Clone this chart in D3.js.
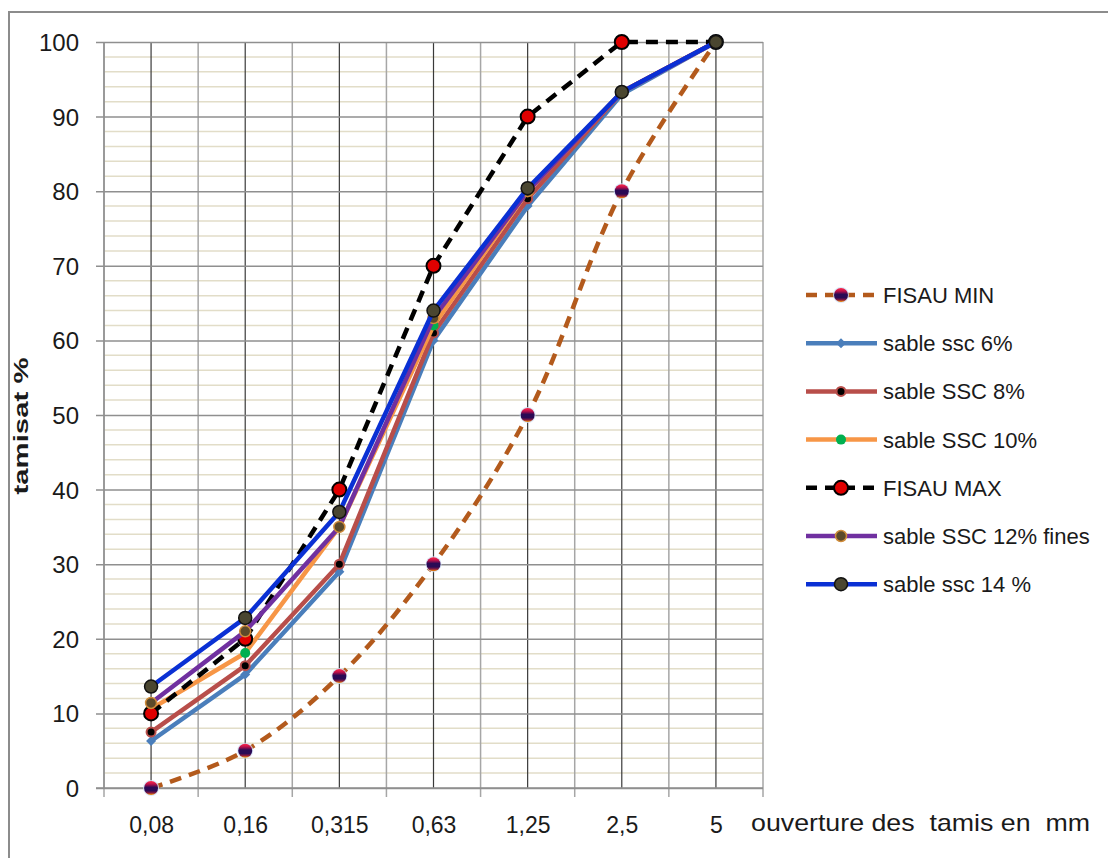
<!DOCTYPE html>
<html><head><meta charset="utf-8">
<script src="https://cdn.jsdelivr.net/npm/d3@7"></script>
<style>
html,body{margin:0;padding:0;background:#fff;}
svg{display:block;}
text{font-family:"Liberation Sans",Arial,sans-serif;fill:#1a1a1a;}
</style></head>
<body>
<svg id="chart" width="1108" height="858"></svg>
<script>
const categories = ["0,08","0,16","0,315","0,63","1,25","2,5","5"];
const fisauMin = [0,5,15,30,50,80,100];
const ssc6 = [6.3,15.2,29,60,78,93,100];
const ssc8 = [7.5,16.4,30,61,79,93.3,100];
const ssc10 = [10.6,18.1,35,62,80,93.3,100];
const fisauMax = [10,20,40,70,90,100,100];
const ssc12 = [11.4,21,35,63,80,93.3,100];
const ssc14 = [13.6,22.8,37,64,80.4,93.3,100];
const seriesNames = ["FISAU MIN","sable ssc 6%","sable SSC 8%","sable SSC 10%","FISAU MAX","sable SSC 12% fines","sable ssc 14 %"];
const yTicks = [0,10,20,30,40,50,60,70,80,90,100];
const xTitle = "ouverture des\u00a0\u00a0tamis en\u00a0\u00a0mm";
const yTitle = "tamisat  %";

const svg = d3.select("#chart");
const L = 104, R = 763, T = 42, B = 788;

// outer frame
svg.append("rect").attr("x",9).attr("y",12).attr("width",1200).attr("height",1000)
  .attr("fill","none").attr("stroke","#8c8c8c").attr("stroke-width",2);

const xb = d3.scaleBand().domain(categories).range([L,R]).padding(0);
const xp = d3.scalePoint().domain(categories).range([L,R]).padding(0.5);
const y = d3.scaleLinear().domain([0,100]).range([B,T]);

const defs = svg.append("defs");

// minor horizontal gridlines
const minor = d3.range(2,100,2).filter(v => v % 10 !== 0);
svg.append("g").selectAll("line").data(minor).join("line")
  .attr("x1",L).attr("x2",R).attr("y1",d=>y(d)).attr("y2",d=>y(d))
  .attr("stroke","#e2ddc8").attr("stroke-width",1.5);

// vertical lines at band boundaries (light) incl. tick marks
const bounds = categories.map(c => xb(c)).concat([R]);
svg.append("g").selectAll("line").data(bounds).join("line")
  .attr("x1",d=>d).attr("x2",d=>d).attr("y1",T).attr("y2",B+9)
  .attr("stroke","#a6a6a6").attr("stroke-width",1.5);

// vertical lines at categories (dark)
svg.append("g").selectAll("line").data(categories).join("line")
  .attr("x1",d=>xp(d)).attr("x2",d=>xp(d)).attr("y1",T).attr("y2",B)
  .attr("stroke","#3a3a3a").attr("stroke-width",1.2);

// y axis with major gridlines
const yAxis = d3.axisLeft(y).tickValues(yTicks).tickSize(-(R-L)).tickPadding(25).tickFormat(d3.format("d"));
const gy = svg.append("g").attr("transform",`translate(${L},0)`).call(yAxis);
gy.select(".domain").remove();
gy.selectAll(".tick line").attr("x1",-8).attr("stroke","#8f8f8f").attr("stroke-width",1.5);
gy.selectAll(".tick text").attr("font-size",24).attr("font-family","Liberation Sans, Arial, sans-serif").attr("fill","#1a1a1a").attr("dy","0.35em");

// left axis line
svg.append("line").attr("x1",L).attr("x2",L).attr("y1",T).attr("y2",B).attr("stroke","#8f8f8f").attr("stroke-width",1.5);

// x axis labels
const xAxis = d3.axisBottom(xp).tickSize(0).tickPadding(0);
const gx = svg.append("g").attr("transform",`translate(0,${B})`).call(xAxis);
gx.select(".domain").remove();
gx.selectAll(".tick text").attr("font-size",23).attr("font-family","Liberation Sans, Arial, sans-serif").attr("fill","#1a1a1a").attr("dy",0).attr("y",45);

svg.append("line").attr("x1",L-8).attr("x2",R).attr("y1",B).attr("y2",B).attr("stroke","#8f8f8f").attr("stroke-width",1.5);

// axis titles
svg.append("text").attr("x",751).attr("y",831).attr("font-size",24)
  .attr("textLength",339).attr("lengthAdjust","spacingAndGlyphs").text(xTitle);
svg.append("text").attr("transform","translate(28,426) rotate(-90)").attr("text-anchor","middle")
  .attr("font-size",20).attr("font-weight","bold").attr("textLength",137).attr("lengthAdjust","spacingAndGlyphs")
  .text(yTitle);

// gradient for FISAU MIN markers
const grad = defs.append("linearGradient").attr("id","minGrad").attr("x1",0).attr("y1",0).attr("x2",0).attr("y2",1);
[["0%","#ff2a4a"],["22%","#c0104a"],["45%","#2a0a55"],["70%","#2a0a55"],["85%","#8a1a40"],["100%","#ff9a00"]]
  .forEach(s => grad.append("stop").attr("offset",s[0]).attr("stop-color",s[1]));

const series = [
  {name:seriesNames[0], values:fisauMin, color:"#b35a1c", dash:"12,8", curve:d3.curveCatmullRom, marker:"min"},
  {name:seriesNames[1], values:ssc6, color:"#4a7ebb", dash:null, curve:d3.curveLinear, marker:"diamond"},
  {name:seriesNames[2], values:ssc8, color:"#b84e4a", dash:null, curve:d3.curveLinear, marker:"c8"},
  {name:seriesNames[3], values:ssc10, color:"#f79646", dash:null, curve:d3.curveLinear, marker:"c10"},
  {name:seriesNames[4], values:fisauMax, color:"#000000", dash:"12,8", curve:d3.curveLinear, marker:"max"},
  {name:seriesNames[5], values:ssc12, color:"#7030a0", dash:null, curve:d3.curveLinear, marker:"c12"},
  {name:seriesNames[6], values:ssc14, color:"#0a30d4", dash:null, curve:d3.curveLinear, marker:"c14"}
];

function drawMarker(g, type, cx, cy){
  if(type==="min"){
    g.append("circle").attr("cx",cx).attr("cy",cy).attr("r",8).attr("fill","#cfe0f7").attr("opacity",0.8);
    g.append("circle").attr("cx",cx).attr("cy",cy).attr("r",7).attr("fill","url(#minGrad)");
  } else if(type==="diamond"){
    const s=5;
    g.append("path").attr("d",`M${cx},${cy-s}L${cx+s},${cy}L${cx},${cy+s}L${cx-s},${cy}Z`).attr("fill","#4a7ebb");
  } else if(type==="c8"){
    g.append("circle").attr("cx",cx).attr("cy",cy).attr("r",4.5).attr("fill","#000").attr("stroke","#b84e4a").attr("stroke-width",2);
  } else if(type==="c10"){
    g.append("circle").attr("cx",cx).attr("cy",cy).attr("r",5).attr("fill","#00b050");
  } else if(type==="max"){
    g.append("circle").attr("cx",cx).attr("cy",cy).attr("r",7).attr("fill","#e00000").attr("stroke","#000").attr("stroke-width",2);
  } else if(type==="c12"){
    g.append("circle").attr("cx",cx).attr("cy",cy).attr("r",5.5).attr("fill","#5c4a2a").attr("stroke","#d08c3a").attr("stroke-width",1.5);
  } else if(type==="c14"){
    g.append("circle").attr("cx",cx).attr("cy",cy).attr("r",6.5).attr("fill","#4a4630").attr("stroke","#111").attr("stroke-width",1.5);
  }
}

series.forEach(s => {
  const g = svg.append("g");
  const line = d3.line().x((d,i)=>xp(categories[i])).y(d=>y(d)).curve(s.curve);
  const p = g.append("path").attr("d",line(s.values)).attr("fill","none").attr("stroke",s.color)
    .attr("stroke-width",4.5).attr("stroke-linejoin","round");
  if(s.dash) p.attr("stroke-dasharray",s.dash);
  s.values.forEach((v,i)=>drawMarker(g, s.marker, xp(categories[i]), y(v)));
});

// legend
const lg = svg.append("g");
series.forEach((s,i) => {
  const ly = 295 + i*48.2;
  const l = lg.append("line").attr("x1",806).attr("x2",877).attr("y1",ly).attr("y2",ly)
    .attr("stroke",s.color).attr("stroke-width",4.5);
  if(s.dash) l.attr("stroke-dasharray","11,8").attr("stroke-dashoffset",0);
  drawMarker(lg, s.marker, 841, ly);
  lg.append("text").attr("x",883).attr("y",ly).attr("dy","0.36em").attr("font-size",22).attr("fill","#222").text(s.name);
});
</script>
</body></html>
